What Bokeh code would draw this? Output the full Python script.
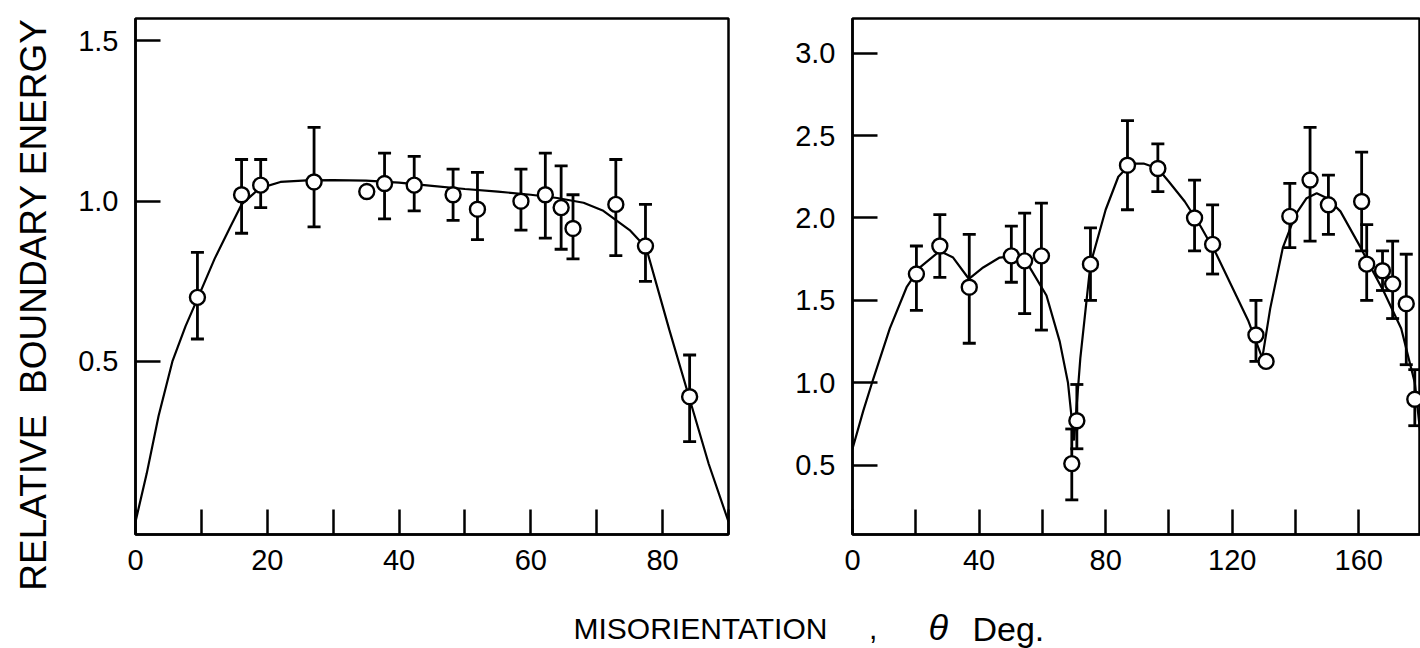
import math
from bokeh.plotting import figure
from bokeh.layouts import column, row
from bokeh.models import FixedTicker, Whisker, TeeHead, ColumnDataSource, Label, Range1d
from bokeh.embed import file_html
from bokeh.resources import INLINE

FONT = "Liberation Sans"
NAN = float("nan")

# ---------------- left panel data ----------------
left_theta = [9.4, 16.1, 19.0, 27.1, 35.1, 37.8, 42.3, 48.2, 51.9, 58.5, 62.2, 64.6, 66.4, 72.9, 77.4, 84.1]
left_energy = [0.70, 1.02, 1.05, 1.06, 1.03, 1.055, 1.05, 1.02, 0.975, 1.00, 1.02, 0.98, 0.915, 0.99, 0.86, 0.39]
left_upper = [0.84, 1.13, 1.13, 1.23, NAN, 1.15, 1.14, 1.10, 1.09, 1.10, 1.15, 1.11, 1.02, 1.13, 0.99, 0.52]
left_lower = [0.57, 0.90, 0.98, 0.92, NAN, 0.945, 0.97, 0.94, 0.88, 0.91, 0.885, 0.85, 0.82, 0.83, 0.75, 0.25]

left_curve_theta = [0, 1.7, 3.5, 5.6, 7.6, 9.5, 12, 14.4, 16.1, 18.8, 22, 26, 30, 35, 40, 45, 50, 55,
                    60, 64, 68, 71, 75, 77.5, 81, 84, 87, 90]
left_curve_energy = [0, 0.15, 0.33, 0.50, 0.61, 0.70, 0.82, 0.92, 0.99, 1.04, 1.06, 1.065, 1.066, 1.064,
                     1.058, 1.048, 1.038, 1.03, 1.02, 1.01, 0.995, 0.97, 0.91, 0.855, 0.60, 0.39, 0.18, 0]

left_xticks = [0, 10, 20, 30, 40, 50, 60, 70, 80, 90]
left_xlabels = ["0", "", "20", "", "40", "", "60", "", "80", ""]
left_yticks = [0.5, 1.0, 1.5]
left_ylabels = ["0.5", "1.0", "1.5"]

# ---------------- right panel data ----------------
right_theta = [20.2, 27.6, 36.9, 50.2, 54.4, 59.7, 69.3, 70.9, 75.2, 86.9, 96.5, 108.1, 113.8, 127.5,
               130.7, 138.2, 144.6, 150.4, 160.9, 162.5, 167.5, 170.7, 175.0, 177.7]
right_energy = [1.66, 1.83, 1.58, 1.77, 1.74, 1.77, 0.51, 0.77, 1.72, 2.32, 2.30, 2.00, 1.84, 1.29,
                1.13, 2.01, 2.23, 2.08, 2.10, 1.72, 1.68, 1.60, 1.48, 0.90]
right_upper = [1.83, 2.02, 1.90, 1.95, 2.03, 2.09, 0.72, 0.99, 1.94, 2.59, 2.45, 2.23, 2.08, 1.50,
               NAN, 2.21, 2.55, 2.26, 2.40, 1.96, 1.80, 1.86, 1.78, 1.08]
right_lower = [1.44, 1.64, 1.24, 1.61, 1.42, 1.32, 0.29, 0.60, 1.50, 2.05, 2.16, 1.80, 1.66, 1.13,
               NAN, 1.82, 1.86, 1.90, 1.80, 1.50, 1.56, 1.39, 1.11, 0.74]

right_curve_theta = [0, 3.4, 6.5, 11.8, 17.1, 21.3, 27.6, 31.8, 36.8, 41.3, 46.5, 51.8, 56, 61.3, 65.5,
                     68.1, 70, 72, 75.2, 80, 84, 88, 92, 96.5, 100, 105, 110, 115, 120, 125, 129.5,
                     132, 136, 140, 143.5, 146.7, 150, 154.2, 160.6, 163.8, 168, 173.4, 177.7, 180]
right_curve_energy = [0.6, 0.83, 1.02, 1.33, 1.58, 1.70, 1.80, 1.76, 1.63, 1.70, 1.76, 1.77, 1.70, 1.53,
                      1.25, 1.0, 0.65, 1.15, 1.72, 2.05, 2.25, 2.33, 2.33, 2.30, 2.22, 2.10, 1.95, 1.78,
                      1.58, 1.38, 1.15, 1.45, 1.82, 2.02, 2.12, 2.15, 2.12, 2.04, 1.82, 1.70, 1.55,
                      1.33, 1.0, 0.6]

right_xticks = [0, 20, 40, 60, 80, 100, 120, 140, 160, 180]
right_xlabels = ["0", "", "40", "", "80", "", "120", "", "160", ""]
right_yticks = [0.5, 1.0, 1.5, 2.0, 2.5, 3.0]
right_ylabels = ["0.5", "1.0", "1.5", "2.0", "2.5", "3.0"]

NB = "\u00a0"
y_title = "RELATIVE" + NB * 2 + "BOUNDARY ENERGY"
x_title_main = "MISORIENTATION" + NB * 5 + ","
x_title_sym = "\u03b8"
x_title_unit = "Deg."

TOP, BOTTOM = 18, 66


def style_axes(p, xt, xl, yt, yl):
    p.xaxis.ticker = FixedTicker(ticks=xt)
    p.xaxis.major_label_overrides = {t: l for t, l in zip(xt, xl)}
    p.yaxis.ticker = FixedTicker(ticks=yt)
    p.yaxis.major_label_overrides = {t: l for t, l in zip(yt, yl)}
    for ax in (p.xaxis[0], p.yaxis[0]):
        ax.major_tick_in = 25
        ax.major_tick_out = 0
        ax.minor_tick_line_color = None
        ax.axis_line_width = 2.5
        ax.axis_line_color = "black"
        ax.major_tick_line_width = 2.5
        ax.major_tick_line_color = "black"
        ax.major_label_text_font = FONT
        ax.major_label_text_font_size = "29px"
        ax.major_label_text_color = "black"
    p.xaxis.major_label_standoff = 15
    p.yaxis.major_label_standoff = 17
    p.grid.visible = False
    p.outline_line_color = "black"
    p.outline_line_width = 2.5
    p.outline_line_alpha = 1.0
    p.background_fill_color = "white"
    p.border_fill_color = "white"


def add_data(p, th, en, up, lo, cth, cen):
    keep = [i for i in range(len(th)) if not math.isnan(up[i])]
    src = ColumnDataSource(dict(base=[th[i] for i in keep],
                                upper=[up[i] for i in keep],
                                lower=[lo[i] for i in keep]))
    w = Whisker(source=src, base="base", upper="upper", lower="lower", dimension="height",
                line_width=2.8, line_color="black", level="underlay",
                upper_head=TeeHead(size=13, line_width=2.8, line_color="black"),
                lower_head=TeeHead(size=13, line_width=2.8, line_color="black"))
    p.add_layout(w)
    p.line(cth, cen, line_color="black", line_width=2.2)
    p.scatter(th, en, marker="circle", size=15, fill_color="white", line_color="black", line_width=2.4)


# narrow strip holding the y-axis title (canvas pixels as data units)
p0 = figure(width=60, height=648, x_range=Range1d(0, 60), y_range=Range1d(0, 648),
            output_backend="svg", toolbar_location=None, x_axis_location=None, y_axis_location=None,
            min_border=0)
p0.grid.visible = False
p0.outline_line_color = None
p0.add_layout(Label(x=33, y=648 - 304, text=y_title, angle=math.pi / 2, text_align="center",
                    text_baseline="middle", text_font=FONT, text_font_size="37px", text_color="black"))

p1 = figure(width=700, height=600, x_range=Range1d(0, 90), y_range=Range1d(-0.04, 1.57),
            output_backend="svg", toolbar_location=None,
            min_border_left=75, min_border_right=32, min_border_top=TOP, min_border_bottom=BOTTOM)
style_axes(p1, left_xticks, left_xlabels, left_yticks, left_ylabels)
add_data(p1, left_theta, left_energy, left_upper, left_lower, left_curve_theta, left_curve_energy)

p2 = figure(width=660, height=600, x_range=Range1d(0, 179.5), y_range=Range1d(0.08, 3.21),
            output_backend="svg", toolbar_location=None,
            min_border_left=92, min_border_right=0, min_border_top=TOP, min_border_bottom=BOTTOM)
style_axes(p2, right_xticks, right_xlabels, right_yticks, right_ylabels)
add_data(p2, right_theta, right_energy, right_upper, right_lower, right_curve_theta, right_curve_energy)

p3 = figure(width=1360, height=48, x_range=Range1d(60, 1420), y_range=Range1d(0, 48),
            output_backend="svg", toolbar_location=None, x_axis_location=None, y_axis_location=None,
            min_border=0)
p3.grid.visible = False
p3.outline_line_color = None
p3.add_layout(Label(x=573, y=20, text=x_title_main, text_align="left", text_baseline="middle",
                    text_font=FONT, text_font_size="30px", text_color="black"))
p3.add_layout(Label(x=928, y=21, text=x_title_sym, text_align="left", text_baseline="middle",
                    text_font=FONT, text_font_size="36px", text_font_style="italic", text_color="black"))
p3.add_layout(Label(x=972, y=20, text=x_title_unit, text_align="left", text_baseline="middle",
                    text_font=FONT, text_font_size="34px", text_color="black"))

layout = row(p0, column(row(p1, p2), p3))
open("out.html", "w").write(file_html(layout, INLINE))
